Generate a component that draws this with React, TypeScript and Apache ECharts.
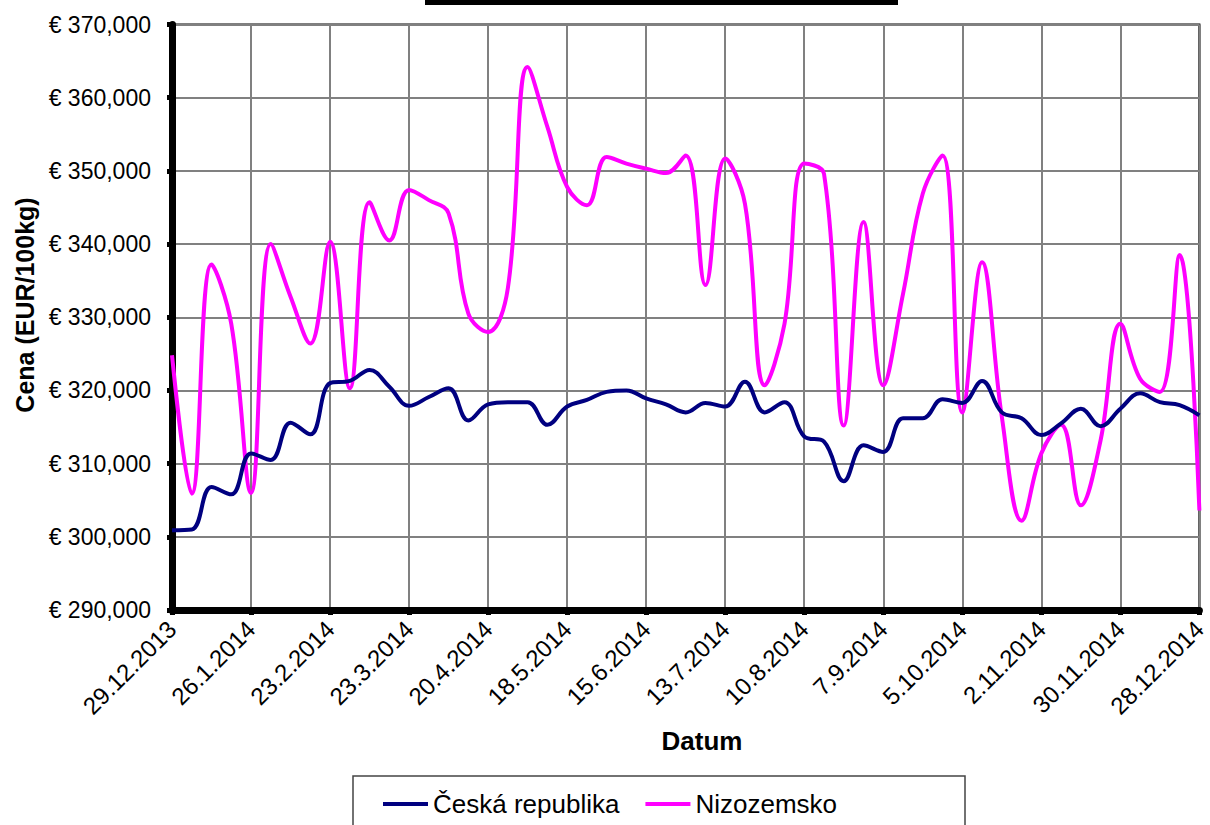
import React, { useEffect, useRef } from "react";
import * as echarts from "echarts";

const dates = [
  "29.12.2013", "5.1.2014", "12.1.2014", "19.1.2014", "26.1.2014", "2.2.2014", "9.2.2014", "16.2.2014",
  "23.2.2014", "2.3.2014", "9.3.2014", "16.3.2014", "23.3.2014", "30.3.2014", "6.4.2014", "13.4.2014",
  "20.4.2014", "27.4.2014", "4.5.2014", "11.5.2014", "18.5.2014", "25.5.2014", "1.6.2014", "8.6.2014",
  "15.6.2014", "22.6.2014", "29.6.2014", "6.7.2014", "13.7.2014", "20.7.2014", "27.7.2014", "3.8.2014",
  "10.8.2014", "17.8.2014", "24.8.2014", "31.8.2014", "7.9.2014", "14.9.2014", "21.9.2014", "28.9.2014",
  "5.10.2014", "12.10.2014", "19.10.2014", "26.10.2014", "2.11.2014", "9.11.2014", "16.11.2014", "23.11.2014",
  "30.11.2014", "7.12.2014", "14.12.2014", "21.12.2014", "28.12.2014",
];

const ceskaRepublika = [
  300900, 301000, 306800, 305800, 311400, 310500, 315600, 314000,
  321000, 321300, 322800, 320500, 317900, 319100, 320300, 315900,
  318100, 318400, 318400, 315300, 317800, 318700, 319800, 320000,
  318900, 318100, 317000, 318300, 317800, 321200, 317000, 318400,
  313700, 313000, 307600, 312500, 311600, 316200, 316200, 318800,
  318300, 321300, 317000, 316200, 313900, 315500, 317500, 315100,
  317500, 319600, 318400, 318000, 316600,
];

const nizozemsko = [
  324800, 305900, 337200, 329100, 306000, 340000, 332800, 326400,
  340300, 320300, 345700, 340500, 347400, 346000, 344200, 330500,
  328000, 334000, 364200, 356000, 347800, 345300, 351900, 351000,
  350300, 349700, 352100, 334400, 351700, 345500, 320700, 329100,
  351000, 349600, 315200, 343000, 320700, 333200, 346900, 352100,
  317000, 337500, 316400, 302200, 311400, 315300, 304300, 313200,
  329100, 321600, 319800, 338500, 303600,
];

const seriesNames = ["Česká republika", "Nizozemsko"];
const yTitle = "Cena (EUR/100kg)";
const xTitle = "Datum";

const FONT = "Arial, 'Liberation Sans', Helvetica, sans-serif";

export default function App() {
  const ref = useRef<HTMLDivElement>(null);

  useEffect(() => {
    if (!ref.current) return;
    const chart = echarts.init(ref.current, null, { renderer: "svg" });
    chart.setOption({
      animation: false,
      backgroundColor: "#ffffff",
      grid: {
        left: 172,
        right: 6,
        top: 24.5,
        bottom: 215,
        show: true,
        borderColor: "#000000",
        borderWidth: 2,
        backgroundColor: "transparent",
      },
      legend: {
        data: seriesNames,
        left: 383,
        top: 789,
        padding: 0,
        icon: "rect",
        itemWidth: 45,
        itemHeight: 4,
        itemGap: 26,
        textStyle: {
          fontFamily: FONT,
          fontSize: 26,
          color: "#000000",
          lineHeight: 30,
        },
      },
      xAxis: {
        type: "category",
        data: dates,
        boundaryGap: false,
        axisLine: { show: true, lineStyle: { color: "#000000", width: 7 } },
        axisTick: { show: true, interval: 3, length: 5, lineStyle: { color: "#000000", width: 5 } },
        axisLabel: {
          interval: 3,
          rotate: 45,
          margin: 15,
          fontFamily: FONT,
          fontSize: 24,
          color: "#000000",
        },
        splitLine: { show: true, interval: 3, lineStyle: { color: "#808080", width: 2 } },
      },
      yAxis: {
        type: "value",
        min: 290000,
        max: 370000,
        interval: 10000,
        axisLine: { show: true, lineStyle: { color: "#000000", width: 7 } },
        axisTick: { show: true, length: 5, lineStyle: { color: "#000000", width: 5 } },
        axisLabel: {
          margin: 21,
          fontFamily: FONT,
          fontSize: 23,
          color: "#000000",
          formatter: (v: number) => "€ " + v.toLocaleString("en-US"),
        },
        splitLine: { show: true, lineStyle: { color: "#808080", width: 2 } },
      },
      series: [
        {
          name: seriesNames[0],
          type: "line",
          data: ceskaRepublika,
          smooth: 0.4,
          symbol: "none",
          lineStyle: { color: "#000080", width: 4 },
          itemStyle: { color: "#000080" },
          z: 3,
        },
        {
          name: seriesNames[1],
          type: "line",
          data: nizozemsko,
          smooth: 0.4,
          symbol: "none",
          lineStyle: { color: "#FF00FF", width: 4 },
          itemStyle: { color: "#FF00FF" },
          z: 2,
        },
      ],
      graphic: [
        {
          type: "rect",
          shape: { x: 425, y: 0, width: 473, height: 5 },
          style: { fill: "#000000" },
        },
        {
          type: "rect",
          shape: { x: 353, y: 776, width: 612, height: 60 },
          style: { fill: "none", stroke: "#444444", lineWidth: 1.5 },
          z: -1,
        },
        {
          type: "text",
          x: 25,
          y: 305,
          rotation: Math.PI / 2,
          style: {
            text: yTitle,
            fontFamily: FONT,
            fontSize: 25,
            fontWeight: "bold",
            fill: "#000000",
            align: "center",
            verticalAlign: "middle",
          },
        },
        {
          type: "text",
          x: 702,
          y: 741,
          style: {
            text: xTitle,
            fontFamily: FONT,
            fontSize: 26,
            fontWeight: "bold",
            fill: "#000000",
            align: "center",
            verticalAlign: "middle",
          },
        },
      ],
    });
    return () => chart.dispose();
  }, []);

  return (
    <div
      ref={ref}
      style={{ position: "fixed", left: 0, top: 0, width: 1210, height: 825, background: "#ffffff" }}
    />
  );
}
